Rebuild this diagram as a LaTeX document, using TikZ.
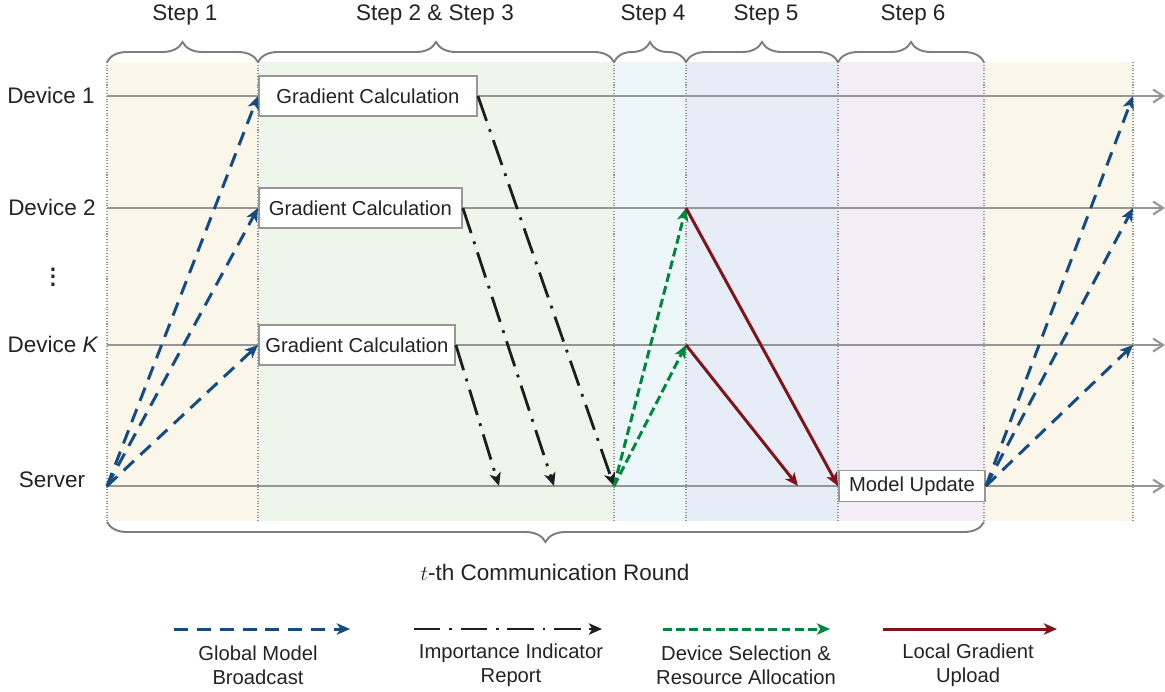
\documentclass[tikz,border=0pt]{standalone}
\usepackage{fontspec}
\setmainfont{Liberation Sans}
\usepackage{tikz}
\usetikzlibrary{arrows.meta, positioning, decorations.pathreplacing}
\definecolor{txt}{RGB}{35,35,35}
\definecolor{axis}{RGB}{150,150,150}
\definecolor{bracegray}{RGB}{125,125,125}
\definecolor{cbcast}{RGB}{20,75,130}
\definecolor{creport}{RGB}{30,30,30}
\definecolor{cselect}{RGB}{0,135,60}
\definecolor{cupload}{RGB}{128,20,25}
\definecolor{bandone}{RGB}{250,247,234}
\definecolor{bandtwo}{RGB}{238,245,235}
\definecolor{bandfour}{RGB}{237,246,249}
\definecolor{bandfive}{RGB}{230,237,246}
\definecolor{bandsix}{RGB}{243,237,245}
\tikzset{
    timeline/.style={draw=axis, line width=1.2pt, -{Straight Barb[length=2mm, width=2.6mm]}},
    divider/.style={draw=axis, densely dotted, line width=0.6pt},
    phase/.style={decorate, decoration={brace, amplitude=0.4cm}, draw=bracegray, line width=1.1pt},
    calcbox/.style={rectangle, draw=axis, line width=1.1pt, fill=white, minimum height=0.8cm, inner sep=3pt, anchor=west},
    bigtext/.style={text=txt, font=\fontsize{12.8}{15}\selectfont},
    devname/.style={bigtext},
    legtext/.style={text=txt, align=center},
    bcastarrow/.style={->, >={Stealth[length=7.5pt, width=6.5pt, inset=2pt]}, draw=cbcast, line width=1.7pt, dash pattern=on 8pt off 5pt},
    reportarrow/.style={->, >={Stealth[length=7.5pt, width=6.5pt, inset=2pt]}, draw=creport, line width=1.6pt, dash pattern=on 15pt off 5pt on 1.6pt off 5pt},
    selectarrow/.style={->, >={Stealth[length=7.5pt, width=6.5pt, inset=2pt]}, draw=cselect, line width=1.7pt, dash pattern=on 5pt off 2.5pt},
    uploadarrow/.style={->, >={Stealth[length=7.5pt, width=6.5pt, inset=2pt]}, draw=cupload, line width=1.7pt}
}

\begin{document}
\begin{tikzpicture}[x=0.02cm, y=-0.02cm, font=\fontsize{11.5}{13.5}\selectfont, text=txt]
    \useasboundingbox (0,0) rectangle (1165,691);

    % Phase bands
    \fill[bandone] (107,62) rectangle (258,521);
    \fill[bandtwo] (258,62) rectangle (614,521);
    \fill[bandfour] (614,62) rectangle (686,521);
    \fill[bandfive] (686,62) rectangle (838,521);
    \fill[bandsix] (838,62) rectangle (984,521);
    \fill[bandone] (984,62) rectangle (1133,521);
    \foreach \x in {107,258,614,686,838,984,1133}
        \draw[divider] (\x,62) -- (\x,521);

    % Braces and step names
    \draw[phase] (107,62) -- (258,62);
    \draw[phase] (258,62) -- (614,62);
    \draw[phase] (614,62) -- (686,62);
    \draw[phase] (686,62) -- (838,62);
    \draw[phase] (838,62) -- (984,62);
    \draw[phase] (984,522) -- (107,522);
    \node[bigtext] (st1) at (185,15) {Step 1};
    \node[bigtext] (st23) at (435,15) {Step 2 \& Step 3};
    \node[bigtext] (st4) at (653,15) {Step 4};
    \node[bigtext] (st5) at (766,15) {Step 5};
    \node[bigtext] (st6) at (913,15) {Step 6};
    \node[bigtext] (round) at (555,572) {$t$-th Communication Round};

    % Participants
    \node[devname] (dev1) at (51,95) {Device 1};
    \node[devname] (dev2) at (52,207) {Device 2};
    \node[devname, font=\fontsize{18}{18}\selectfont] (dots) at (53,272) {$\vdots$};
    \node[devname] (devk) at (53,344) {Device \textit{K}};
    \node[devname] (srv) at (52,480) {Server};

    % Time lines
    \coordinate (a1) at (107,96);   \coordinate (b1) at (1165,96);
    \coordinate (a2) at (107,208);  \coordinate (b2) at (1165,208);
    \coordinate (ak) at (107,345);  \coordinate (bk) at (1165,345);
    \coordinate (as) at (107,486);  \coordinate (bs) at (1165,486);
    \draw[timeline] (a1) -- (b1);
    \draw[timeline] (a2) -- (b2);
    \draw[timeline] (ak) -- (bk);
    \draw[timeline] (as) -- (bs);

    % Events on the time lines
    \coordinate (rep3) at (499,486);
    \coordinate (rep2) at (554,486);
    \coordinate (rep1) at (614,486);
    \coordinate (sel2) at (686,208);
    \coordinate (selk) at (686,345);
    \coordinate (upk) at (798,486);
    \coordinate (nxt1) at (1133,96);
    \coordinate (nxt2) at (1133,208);
    \coordinate (nxtk) at (1133,345);

    % Boxes
    \node[calcbox, minimum width=4.36cm] (g1) at (258,96) {Gradient Calculation};
    \node[calcbox, minimum width=4.06cm] (g2) at (258,208) {Gradient Calculation};
    \node[calcbox, minimum width=3.92cm] (gk) at (258,345) {Gradient Calculation};
    \node[calcbox, minimum width=2.92cm, minimum height=0.62cm] (mu) at (838,486) {Model Update};

    % Messages
    \draw[bcastarrow] (as) -- (g1.west);
    \draw[bcastarrow] (as) -- (g2.west);
    \draw[bcastarrow] (as) -- (gk.west);
    \draw[reportarrow] (g1.east) -- (rep1);
    \draw[reportarrow] (g2.east) -- (rep2);
    \draw[reportarrow] (gk.east) -- (rep3);
    \draw[selectarrow] (rep1) -- (sel2);
    \draw[selectarrow] (rep1) -- (selk);
    \draw[uploadarrow] (sel2) -- (mu.west);
    \draw[uploadarrow] (selk) -- (upk);
    \draw[bcastarrow] (mu.east) -- (nxt1);
    \draw[bcastarrow] (mu.east) -- (nxt2);
    \draw[bcastarrow] (mu.east) -- (nxtk);

    % Legend
    \coordinate (l1a) at (174,629); \coordinate (l1b) at (350,629);
    \coordinate (l2a) at (414,629); \coordinate (l2b) at (602,629);
    \coordinate (l3a) at (663,629); \coordinate (l3b) at (830,629);
    \coordinate (l4a) at (883,629); \coordinate (l4b) at (1057,629);
    \draw[bcastarrow] (l1a) -- (l1b);
    \draw[reportarrow] (l2a) -- (l2b);
    \draw[selectarrow] (l3a) -- (l3b);
    \draw[uploadarrow] (l4a) -- (l4b);
    \node[legtext] (leg1) at (258,665) {Global Model\\Broadcast};
    \node[legtext] (leg2) at (511,665) {Importance Indicator\\Report};
    \node[legtext] (leg3) at (746,665) {Device Selection \&\\Resource Allocation};
    \node[legtext] (leg4) at (968,665) {Local Gradient\\Upload};
\end{tikzpicture}
\end{document}
